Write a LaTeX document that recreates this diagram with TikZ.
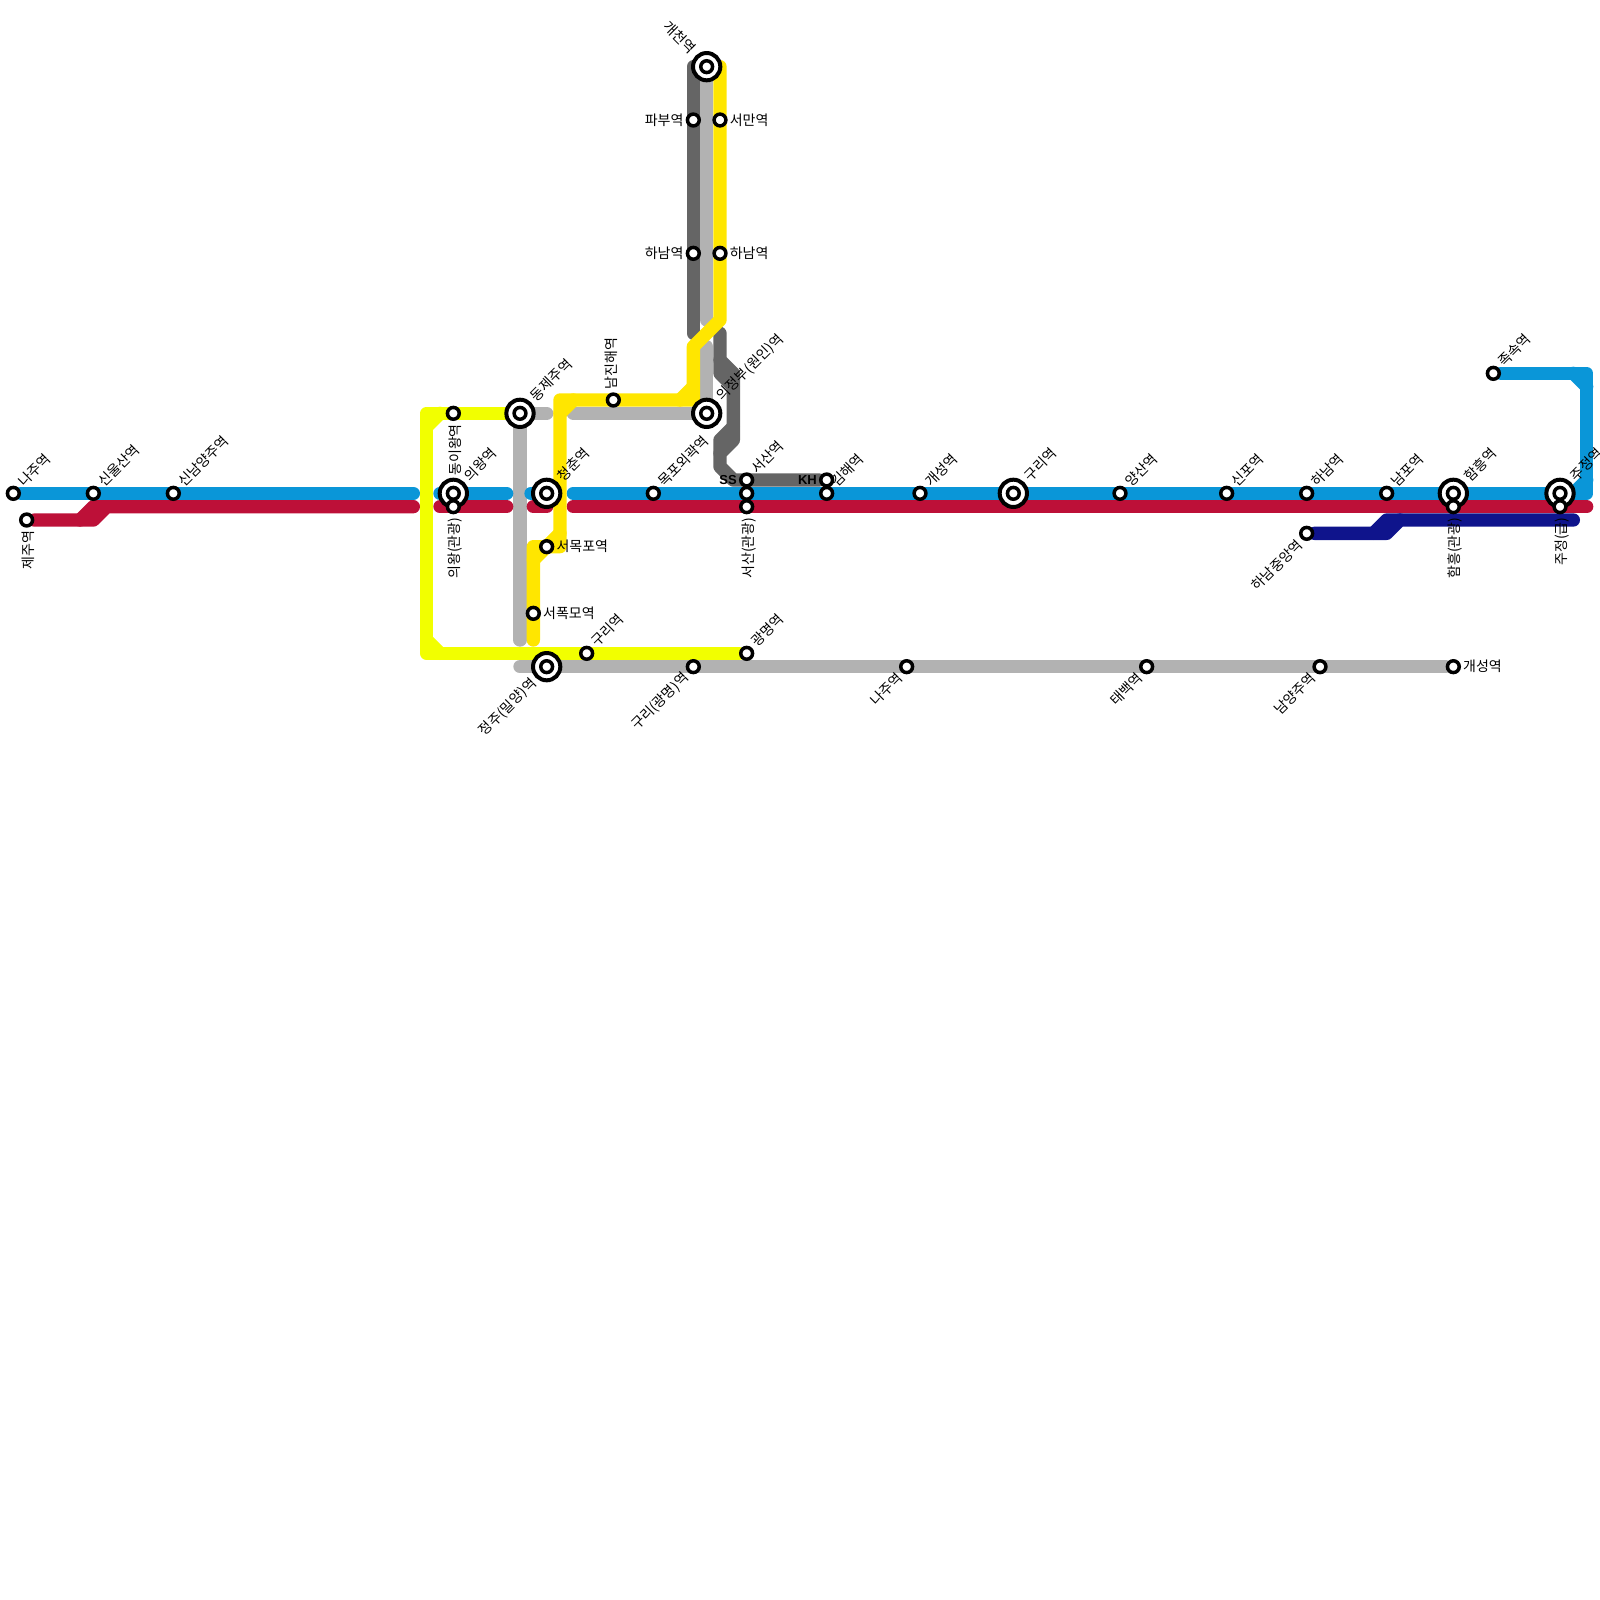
\documentclass[tikz,border=0pt]{standalone}
\usepackage{fontspec}
\newfontfamily\lbfont{Noto Sans CJK KR}
\newfontfamily\bdfont{Liberation Sans}[BoldFont={Liberation Sans Bold}]
\usetikzlibrary{backgrounds}
\definecolor{mblue}{HTML}{0A96D8}
\definecolor{mred}{HTML}{BD1038}
\definecolor{mnavy}{HTML}{0F148C}
\definecolor{mlime}{HTML}{F2FF00}
\definecolor{myellow}{HTML}{FFE600}
\definecolor{mgray}{HTML}{B2B2B2}
\definecolor{mdark}{HTML}{656565}

\begin{document}
\begin{tikzpicture}[
  x=13.3333pt, y=-13.3333pt,
  stn/.style     = {circle, draw, fill=white, line width=3.5pt, minimum size=11.8pt, inner sep=0pt},
  stnring/.style = {circle, draw, fill=white, line width=4pt, minimum size=27.3pt, inner sep=0pt,
                    path picture={\draw[line width=3.5pt] (path picture bounding box.center) circle (5.9pt);}},
  metro/.style   = {line width=13.3333pt, line cap=round, line join=round},
  lblue/.style   = {metro, draw=mblue},
  lred/.style    = {metro, draw=mred},
  lnavy/.style   = {metro, draw=mnavy},
  llime/.style   = {metro, draw=mlime},
  lyellow/.style = {metro, draw=myellow},
  lgray/.style   = {metro, draw=mgray},
  ldark/.style   = {metro, draw=mdark},
  every label/.style = {font=\lbfont\fontsize{14}{14}\selectfont, inner sep=0pt, text=black},
  label distance=2pt,
  lbne/.style = {rotate=45, anchor=west, xshift=2.5pt},
  lbsw/.style = {rotate=45, anchor=east, xshift=-2pt},
  lbnw/.style = {rotate=-45, anchor=east, xshift=-3pt},
  lbup/.style = {rotate=90, anchor=west, xshift=3pt},
  lbdn/.style = {rotate=90, anchor=east, xshift=-3pt},
  lbcode/.style = {font=\bdfont\bfseries\fontsize{13}{13}\selectfont},
]
  \useasboundingbox (0,0) rectangle (120,120);

  % interchanges
  \node[stnring,label={[lbne]45:의왕역}] (sUiwang) at (34,37) {};
  \node[stnring,label={[lbne]45:동제주역}] (sDongjeju) at (39,31) {};
  \node[stnring,label={[lbne]45:청춘역}] (sCheongchun) at (41,37) {};
  \node[stnring,label={[lbsw]225:정주(밀양)역}] (sJeongju) at (41,50) {};
  \node[stnring,label={[lbnw]135:개천역}] (sGaecheon) at (53,5) {};
  \node[stnring,label={[lbne]45:의정부(원인)역}] (sUijeongbu) at (53,31) {};
  \node[stnring,label={[lbne]45:구리역}] (sGuri) at (76,37) {};
  \node[stnring,label={[lbne]45:함흥역}] (sHamheung) at (109,37) {};
  \node[stnring,label={[lbne]45:주정역}] (sJujeong) at (117,37) {};

  % stations
  \node[stn,label={[lbne]45:나주역}] (sNaju) at (1,37) {};
  \node[stn,label={[lbdn]-90:제주역}] (sJeju) at (2,39) {};
  \node[stn,label={[lbne]45:신울산역}] (sSinulsan) at (7,37) {};
  \node[stn,label={[lbne]45:신남양주역}] (sSinnamyang) at (13,37) {};
  \node[stn,label={[lbdn]-90:동이왕역}] (sDongiwang) at (34,31) {};
  \node[stn,label={[lbdn]-90:의왕(관광)}] (sUiwangT) at (34,38) {};
  \node[stn,label={right:서목포역}] (sSeomokpo) at (41,41) {};
  \node[stn,label={right:서폭모역}] (sSeopokmo) at (40,46) {};
  \node[stn,label={[lbne]45:구리역}] (sGuriS) at (44,49) {};
  \node[stn,label={[lbup]90:남진해역}] (sNamjinhae) at (46,30) {};
  \node[stn,label={[lbne]45:목포외곽역}] (sMokpo) at (49,37) {};
  \node[stn,label={[lbsw]225:구리(광명)역}] (sGuriG) at (52,50) {};
  \node[stn,label={left:파부역}] (sPabu) at (52,9) {};
  \node[stn,label={right:서만역}] (sSeoman) at (54,9) {};
  \node[stn,label={left:하남역}] (sHanamW) at (52,19) {};
  \node[stn,label={right:하남역}] (sHanamE) at (54,19) {};
  \node[stn,label={[lbne]45:서산역},label={[lbcode]left:SS}] (sSeosan) at (56,36) {};
  \node[stn] (sSeosanB) at (56,37) {};
  \node[stn,label={[lbdn]-90:서산(관광)}] (sSeosanT) at (56,38) {};
  \node[stn,label={[lbne]45:광명역}] (sGwangmyeong) at (56,49) {};
  \node[stn,label={[lbcode]left:KH}] (sGimhaeN) at (62,36) {};
  \node[stn,label={[lbne]45:김해역}] (sGimhae) at (62,37) {};
  \node[stn,label={[lbsw]225:나주역}] (sNajuS) at (68,50) {};
  \node[stn,label={[lbne]45:개성역}] (sGaeseong) at (69,37) {};
  \node[stn,label={[lbne]45:양산역}] (sYangsan) at (84,37) {};
  \node[stn,label={[lbsw]225:태백역}] (sTaebaek) at (86,50) {};
  \node[stn,label={[lbne]45:신포역}] (sSinpo) at (92,37) {};
  \node[stn,label={[lbne]45:하남역}] (sHanam) at (98,37) {};
  \node[stn,label={[lbsw]225:하남중앙역}] (sHanamC) at (98,40) {};
  \node[stn,label={[lbsw]225:남양주역}] (sNamyangju) at (99,50) {};
  \node[stn,label={[lbne]45:남포역}] (sNampo) at (104,37) {};
  \node[stn,label={[lbdn]-90:함흥(관광)}] (sHamheungT) at (109,38) {};
  \node[stn,label={right:개성역}] (sGaeseongS) at (109,50) {};
  \node[stn,label={[lbne]45:족속역}] (sJoksok) at (112,28) {};
  \node[stn,label={[lbdn]-90:주정(급)}] (sJujeongT) at (117,38) {};

  % free line ends
  \coordinate (eBlueA) at (31,37);
  \coordinate (eBlueB) at (33,37);
  \coordinate (eBlueC) at (38,37);
  \coordinate (eBlueD) at (40,37);
  \coordinate (eBlueE) at (43,37);
  \coordinate (eRedA) at (31,38);
  \coordinate (eRedB) at (33,38);
  \coordinate (eRedC) at (38,38);
  \coordinate (eRedD) at (40,38);
  \coordinate (eRedE) at (41,38);
  \coordinate (eRedF) at (43,38);
  \coordinate (eRedG) at (119,38);
  \coordinate (eNavy) at (118,39);
  \coordinate (eGrayA) at (39,48);
  \coordinate (eGrayB) at (41,31);
  \coordinate (eGrayC) at (43,31);
  \coordinate (eGrayD) at (39,50);
  \coordinate (eGrayE) at (53,24);
  \coordinate (eGrayF) at (53,26);
  \coordinate (eDarkA) at (52,5);
  \coordinate (eDarkB) at (52,25);
  \coordinate (eDarkC) at (54,25);
  \coordinate (eYelA) at (54,5);
  \coordinate (eYelB) at (40,48);

  \begin{scope}[on background layer]
    \draw[lgray] (sDongjeju) -- (eGrayA);
    \draw[lgray] (sDongjeju) -- (eGrayB);
    \draw[lgray] (eGrayC) -- (sUijeongbu);
    \draw[lgray] (eGrayF) -- (sUijeongbu);
    \draw[lgray] (sGaecheon) -- (eGrayE);
    \draw[lgray] (eGrayD) -- (sGaeseongS);
    \draw[ldark] (eDarkA) -- (eDarkB);
    \draw[ldark] (eDarkC) -- (54,27) -- (55,28) -- (55,33) -- (54,34) -- (54,35) -- (55,36) -- (sGimhaeN);
    \draw[ldark] (54,27) -- (54,28) -- (55,29);
    \draw[ldark] (55,32) -- (54,33) -- (54,34);
    \draw[lblue] (sNaju) -- (eBlueA);
    \draw[lblue] (eBlueB) -- (eBlueC);
    \draw[lblue] (eBlueD) -- (sCheongchun);
    \draw[lblue] (eBlueE) -- (119,37) -- (119,28) -- (sJoksok);
    \draw[lblue] (118,28) -- (119,29);
    \draw[lblue] (119,36) -- (118,37);
    \draw[lnavy] (sHanamC) -- (104,40) -- (105,39) -- (eNavy);
    \draw[lnavy] (103,40) -- (104,39) -- (105,39);
    \draw[lred] (sJeju) -- (7,39) -- (8,38) -- (eRedA);
    \draw[lred] (6,39) -- (7,38) -- (8,38);
    \draw[lred] (eRedB) -- (eRedC);
    \draw[lred] (eRedD) -- (eRedE);
    \draw[lred] (eRedF) -- (eRedG);
    \draw[llime] (sDongjeju) -- (32,31) -- (32,49) -- (sGwangmyeong);
    \draw[llime] (32,32) -- (33,31);
    \draw[llime] (32,48) -- (33,49);
    \draw[lyellow] (eYelB) -- (40,41) -- (42,41) -- (42,30) -- (52,30) -- (52,26) -- (54,24) -- (eYelA);
    \draw[lyellow] (40,42) -- (42,40);
    \draw[lyellow] (42,31) -- (43,30);
    \draw[lyellow] (51,30) -- (52,29);
  \end{scope}
\end{tikzpicture}
\end{document}
